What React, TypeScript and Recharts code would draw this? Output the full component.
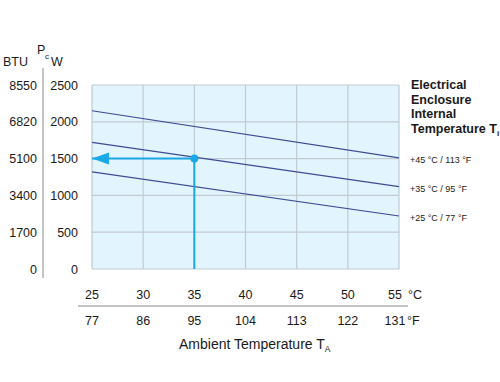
import { LineChart, Line, XAxis, YAxis, CartesianGrid } from "recharts";

// ambient temperature ticks
const TEMP_C = [25, 30, 35, 40, 45, 50, 55];
const TEMP_F = ["77", "86", "95", "104", "113", "122", "131"];

// cooling output ticks
const WATTS = [0, 500, 1000, 1500, 2000, 2500];
const BTU = ["0", "1700", "3400", "5100", "6820", "8550"];

// each curve is straight, read at both ends
const LINE_45 = [
  { t: 25, p: 2150 },
  { t: 55, p: 1510 },
];
const LINE_35 = [
  { t: 25, p: 1720 },
  { t: 55, p: 1120 },
];
const LINE_25 = [
  { t: 25, p: 1320 },
  { t: 55, p: 720 },
];
const CURVE_LABELS = ["+45 °C / 113 °F", "+35 °C / 95 °F", "+25 °C / 77 °F"];

// reading example: 35 °C ambient -> 1500 W
const EXAMPLE = [
  { t: 25, p: 1500 },
  { t: 35, p: 1500 },
  { t: 35, p: 0 },
];

const FONT = "'Liberation Sans', Arial, Helvetica, sans-serif";
const TEXT = "#1a1a1a";
const CURVE = "#3d4b94";
const CYAN = "#1ba8e6";

const renderXTick = (props: any) => {
  const { x, payload, index } = props;
  const last = index === TEMP_C.length - 1;
  const cx = last ? x - 4 : x;
  return (
    <g key={`xt-${index}`} fontFamily={FONT} fontSize={12.5}>
      <text x={cx} y={299} textAnchor="middle" fill={TEXT}>
        {payload.value}
      </text>
      <text x={cx} y={325} textAnchor="middle" fill={TEXT}>
        {TEMP_F[index]}
      </text>
      {last && (
        <>
          <text x={x + 9} y={299} fill={TEXT}>°C</text>
          <text x={x + 8} y={325} fill={TEXT}>°F</text>
        </>
      )}
    </g>
  );
};

const renderYTick = (props: any) => {
  const { y, payload, index } = props;
  const i = WATTS.indexOf(payload.value);
  return (
    <g key={`yt-${index}`} fontFamily={FONT} fontSize={12.5}>
      <text x={78} y={y + 4.5} textAnchor="end" fill={TEXT}>
        {payload.value}
      </text>
      <text x={37} y={y + 4.5} textAnchor="end" fill={TEXT}>
        {BTU[i]}
      </text>
    </g>
  );
};

const ArrowDot = (props: any) => {
  const { cx, cy, index } = props;
  if (index === 0) {
    return (
      <path
        key="tip"
        d={`M${cx} ${cy} L${cx + 17} ${cy - 6} L${cx + 17} ${cy + 6} Z`}
        fill={CYAN}
      />
    );
  }
  if (index === 1) {
    return <circle key="pt" cx={cx} cy={cy} r={4} fill={CYAN} />;
  }
  return <g key="none" />;
};

const CurveLabel = (text: string) => (props: any) => {
  const { x, y, index } = props;
  if (index !== 1) return null;
  return (
    <text key={text} x={x + 11} y={y + 5} fontFamily={FONT} fontSize={9} fill={TEXT}>
      {text}
    </text>
  );
};

export default function App() {
  return (
    <div style={{ position: "absolute", left: 0, top: 0, width: 500, height: 382, background: "#fff" }}>
      <LineChart
        width={500}
        height={382}
        margin={{ top: 85, right: 101, bottom: 63, left: 42 }}
      >
        <CartesianGrid stroke="#c3cad1" strokeWidth={1.2} fill="#e2f4fd" fillOpacity={1} />
        <XAxis
          dataKey="t"
          type="number"
          domain={[25, 55]}
          ticks={TEMP_C}
          interval={0}
          axisLine={false}
          tickLine={false}
          height={50}
          tick={renderXTick}
          allowDuplicatedCategory={false}
        />
        <YAxis
          dataKey="p"
          type="number"
          domain={[0, 2500]}
          ticks={WATTS}
          interval={0}
          axisLine={false}
          tickLine={false}
          width={50}
          tick={renderYTick}
        />
        <Line data={LINE_45} dataKey="p" stroke={CURVE} strokeWidth={1.2} dot={false} isAnimationActive={false} label={CurveLabel(CURVE_LABELS[0])} />
        <Line data={LINE_35} dataKey="p" stroke={CURVE} strokeWidth={1.2} dot={false} isAnimationActive={false} label={CurveLabel(CURVE_LABELS[1])} />
        <Line data={LINE_25} dataKey="p" stroke={CURVE} strokeWidth={1.2} dot={false} isAnimationActive={false} label={CurveLabel(CURVE_LABELS[2])} />
        <Line data={EXAMPLE} dataKey="p" stroke={CYAN} strokeWidth={2} dot={<ArrowDot />} isAnimationActive={false} />

        {/* left axis headers and divider */}
        <line x1={43} y1={68} x2={43} y2={278} stroke="#8a8a8a" strokeWidth={1} />
        <text x={3} y={66} fontFamily={FONT} fontSize={12.5} fill={TEXT}>BTU</text>
        <text x={37} y={54} fontFamily={FONT} fontSize={12.5} fill={TEXT}>P</text>
        <text x={45} y={59} fontFamily={FONT} fontSize={8} fill={TEXT}>c</text>
        <text x={51} y={66} fontFamily={FONT} fontSize={12.5} fill={TEXT}>W</text>

        {/* bottom axis divider and title */}
        <line x1={78} y1={306} x2={408} y2={306} stroke="#8a8a8a" strokeWidth={1} />
        <text x={179} y={349} fontFamily={FONT} fontSize={14} fill={TEXT}>
          Ambient Temperature T
          <tspan fontSize={8.5} dy={3}>A</tspan>
        </text>

        {/* legend title */}
        <g fontFamily={FONT} fontSize={12.5} fill={TEXT} fontWeight={600}>
          <text x={411} y={89}>Electrical</text>
          <text x={411} y={104}>Enclosure</text>
          <text x={411} y={118}>Internal</text>
          <text x={411} y={133}>
            Temperature T<tspan fontSize={8} dy={3}>i</tspan>
          </text>
        </g>
      </LineChart>
    </div>
  );
}
